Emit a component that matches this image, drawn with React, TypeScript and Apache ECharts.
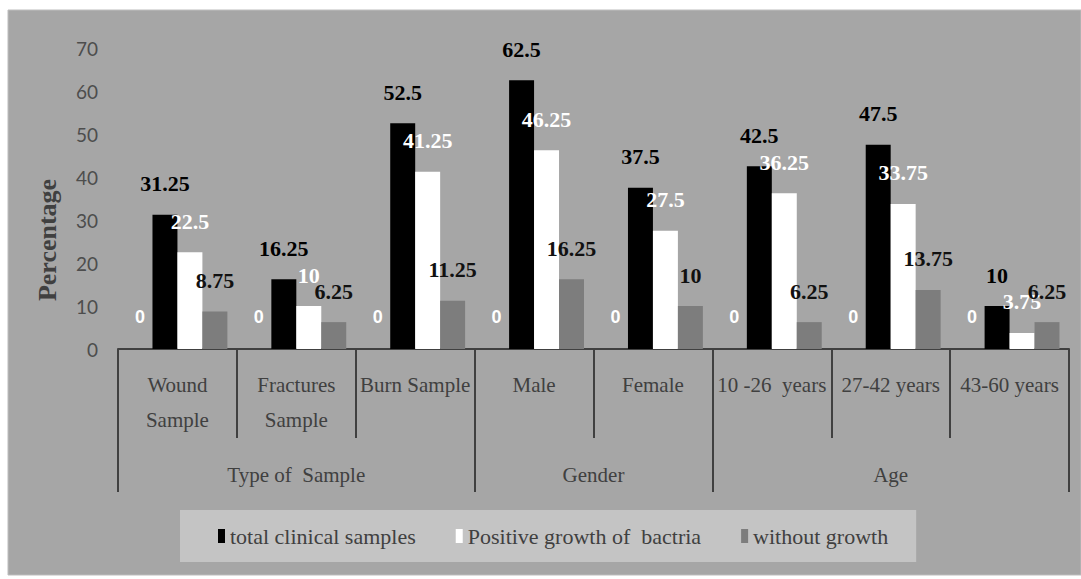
import React, { useEffect, useRef } from "react";
import * as echarts from "echarts";

const categories = [
  "Wound\nSample",
  "Fractures\nSample",
  "Burn Sample",
  "Male",
  "Female",
  "10 -26  years",
  "27-42 years",
  "43-60 years",
];
const zeroSeries = [0, 0, 0, 0, 0, 0, 0, 0];
const totalSamples = [31.25, 16.25, 52.5, 62.5, 37.5, 42.5, 47.5, 10];
const positiveGrowth = [22.5, 10, 41.25, 46.25, 27.5, 36.25, 33.75, 3.75];
const withoutGrowth = [8.75, 6.25, 11.25, 16.25, 10, 6.25, 13.75, 6.25];
const groupNames = ["Type of  Sample", "Gender", "Age"];
const groupSpans = [3, 2, 3];
const seriesNames = [
  "total clinical samples",
  "Positive growth of  bactria",
  "without growth",
];
const yTicks = { min: 0, max: 70, interval: 10 };

const SERIF = "Liberation Serif";

export default function App() {
  const ref = useRef<HTMLDivElement>(null);
  useEffect(() => {
    if (!ref.current) return;
    const chart = echarts.init(ref.current, null, { renderer: "svg" });

    const boundaries: number[] = [0];
    const centers: number[] = [];
    let acc = 0;
    groupSpans.forEach((s) => {
      centers.push(acc + s / 2);
      acc += s;
      boundaries.push(acc);
    });
    const centerMap: Record<string, string> = {};
    centers.forEach((c, i) => (centerMap[String(c)] = groupNames[i]));

    const labelBase = {
      show: true,
      position: "top",
      fontFamily: SERIF,
      fontWeight: "bold",
      fontSize: 22,
      distance: 20,
    };

    chart.setOption({
      animation: false,
      backgroundColor: "#ffffff",
      graphic: [
        {
          type: "rect",
          z: -10,
          shape: { x: 8, y: 10, width: 1073, height: 565 },
          style: { fill: "#a6a6a6", stroke: "#bdbdbd", lineWidth: 1 },
        },
        {
          type: "text",
          x: 47,
          y: 240,
          rotation: Math.PI / 2,
          style: {
            text: "Percentage",
            fontFamily: SERIF,
            fontWeight: "bold",
            fontSize: 26,
            fill: "#404040",
            align: "center",
            verticalAlign: "middle",
          },
        },
      ],
      grid: { left: 118, right: 12, top: 48, bottom: 230 },
      legend: {
        data: seriesNames,
        left: 180,
        top: 510,
        padding: [15, 28, 15, 38],
        backgroundColor: "#c4c4c4",
        itemGap: 40,
        itemWidth: 7,
        itemHeight: 14,
        icon: "rect",
        textStyle: { fontFamily: SERIF, fontSize: 22, color: "#404040" },
      },
      xAxis: [
        {
          type: "category",
          data: categories,
          position: "bottom",
          axisLine: { show: true, lineStyle: { color: "#404040", width: 2 } },
          axisTick: {
            show: true,
            length: 89,
            lineStyle: { color: "#404040", width: 2 },
          },
          axisLabel: {
            interval: 0,
            margin: 18,
            fontFamily: SERIF,
            fontSize: 21,
            lineHeight: 35,
            color: "#404040",
          },
        },
        {
          type: "value",
          position: "bottom",
          min: 0,
          max: groupSpans.reduce((a, b) => a + b, 0),
          axisLine: { show: false },
          splitLine: { show: false },
          axisTick: {
            show: true,
            length: 143,
            customValues: boundaries,
            lineStyle: { color: "#404040", width: 2 },
          },
          axisLabel: {
            show: true,
            customValues: centers,
            margin: 115,
            fontFamily: SERIF,
            fontSize: 21,
            lineHeight: 22,
            color: "#404040",
            formatter: (v: number) => centerMap[String(v)] ?? "",
          },
        },
      ],
      yAxis: {
        type: "value",
        min: yTicks.min,
        max: yTicks.max,
        interval: yTicks.interval,
        axisLine: { show: false },
        axisTick: { show: false },
        splitLine: { show: false },
        axisLabel: {
          margin: 20,
          fontFamily: "Lato",
          fontSize: 19,
          color: "#4d4d4d",
        },
      },
      series: [
        {
          name: "Series1",
          type: "bar",
          data: zeroSeries,
          barGap: "0%",
          barCategoryGap: "16%",
          itemStyle: { color: "#ffffff" },
          label: {
            show: true,
            position: "top",
            distance: 23,
            color: "#ffffff",
            fontFamily: "Liberation Sans",
            fontWeight: "bold",
            fontSize: 18,
          },
        },
        {
          name: seriesNames[0],
          type: "bar",
          data: totalSamples,
          barGap: "0%",
          barCategoryGap: "16%",
          itemStyle: { color: "#000000" },
          label: { ...labelBase, color: "#000000" },
        },
        {
          name: seriesNames[1],
          type: "bar",
          data: positiveGrowth,
          barGap: "0%",
          barCategoryGap: "16%",
          itemStyle: { color: "#ffffff" },
          label: { ...labelBase, color: "#ffffff" },
        },
        {
          name: seriesNames[2],
          type: "bar",
          data: withoutGrowth,
          barGap: "0%",
          barCategoryGap: "16%",
          itemStyle: { color: "#7d7d7d" },
          label: { ...labelBase, color: "#111111" },
        },
      ],
    });
    return () => chart.dispose();
  }, []);
  return (
    <div
      ref={ref}
      style={{ position: "absolute", left: 0, top: 0, width: 1081, height: 579 }}
    />
  );
}
